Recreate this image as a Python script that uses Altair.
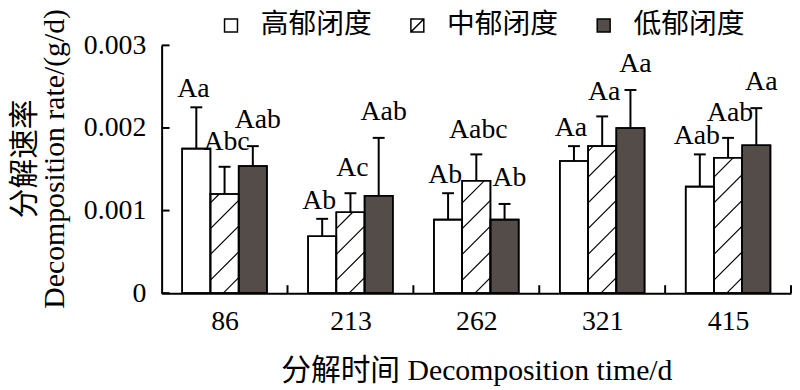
import json
import altair as alt
import pandas as pd

# ---------------- data ----------------
days = ["86", "213", "262", "321", "415"]
series = ["高郁闭度", "中郁闭度", "低郁闭度"]
high_mean = [0.00175, 0.00069, 0.00089, 0.00160, 0.00129]
high_sd = [0.00050, 0.00021, 0.00032, 0.00018, 0.00039]
mid_mean = [0.00120, 0.00098, 0.00136, 0.00178, 0.00164]
mid_sd = [0.00033, 0.00023, 0.00032, 0.00036, 0.00024]
low_mean = [0.00154, 0.00118, 0.00089, 0.00200, 0.00179]
low_sd = [0.00024, 0.00070, 0.00019, 0.00046, 0.00045]
high_sig = ["Aa", "Ab", "Ab", "Aa", "Aab"]
mid_sig = ["Abc", "Ac", "Aabc", "Aa", "Aab"]
low_sig = ["Aab", "Aab", "Ab", "Aa", "Aa"]
y_ticks = [0, 0.001, 0.002, 0.003]

# ---------------- layout / style ----------------
W, H = 635, 250
YMAX = 0.003
PX_X = W / len(days)          # pixels per category unit
PX_Y = H / YMAX               # pixels per y unit
BAR_PX = 28.5
BW = BAR_PX / PX_X
TICK_PX = 8
HATCH_GAP = 26
FONT = "Liberation Serif, Noto Sans CJK SC"
FS = 28
TFS = 30
colors = ["#ffffff", "#ffffff", "#544c49"]
strokes = ["#000000", "#000000", "#000000"]
shapes = ["square", "M-1,-1H1V1H-1Z M-1,1L1,-1", "square"]
label_dx = [-3, 2, 5]
label_dy = [-10, -17, -18]

means = [high_mean, mid_mean, low_mean]
sds = [high_sd, mid_sd, low_sd]
sigs = [high_sig, mid_sig, low_sig]

rows = []
for k, s in enumerate(series):
    for i, d in enumerate(days):
        c = i + (k - 1) * BW
        rows.append(dict(series=s, day=d, center=c, x0=c - BW / 2, x1=c + BW / 2,
                         base=0.0, mean=means[k][i], top=means[k][i] + sds[k][i],
                         sig=sigs[k][i]))
df = pd.DataFrame(rows)

# hatch segments for the middle series (diagonal "/" lines clipped to each bar)
hrows = []
for r in rows:
    if r["series"] != series[1]:
        continue
    hpx = r["mean"] * PX_Y
    c = -BAR_PX + HATCH_GAP * 0.6
    while c < hpx:
        u0 = max(0.0, -c)
        u1 = min(BAR_PX, hpx - c)
        if u1 > u0:
            hrows.append(dict(hx0=r["x0"] + u0 / PX_X, hx1=r["x0"] + u1 / PX_X,
                              hy0=(u0 + c) / PX_Y, hy1=(u1 + c) / PX_Y))
        c += HATCH_GAP
hdf = pd.DataFrame(hrows)

ydf = pd.DataFrame(dict(v=y_ticks, xa=[-0.5] * len(y_ticks),
                        xb=[-0.5 + TICK_PX / PX_X] * len(y_ticks)))
bounds = [i + 0.5 for i in range(len(days))]
xdf = pd.DataFrame(dict(b=bounds, ya=[0.0] * len(bounds),
                        yb=[TICK_PX / PX_Y] * len(bounds)))

# ---------------- scales / axes ----------------
xscale = alt.Scale(domain=[-0.5, len(days) - 0.5], nice=False, zero=False)
yscale = alt.Scale(domain=[0, YMAX], nice=False)
xaxis = alt.Axis(values=list(range(len(days))),
                 labelExpr=json.dumps(days) + "[datum.value]",
                 ticks=False, grid=False, domainColor="black", domainWidth=2,
                 labelFont=FONT, labelFontSize=FS, labelColor="black",
                 labelPadding=15, labelOverlap=False,
                 title="分解时间 Decomposition time/d", titleFont=FONT,
                 titleFontSize=TFS, titleFontWeight="normal", titleColor="black",
                 titlePadding=20)
yaxis = alt.Axis(values=y_ticks,
                 labelExpr="datum.value == 0 ? '0' : format(datum.value, '.3f')",
                 ticks=False, grid=False, domainColor="black", domainWidth=2,
                 labelFont=FONT, labelFontSize=FS, labelColor="black",
                 labelPadding=16,
                 title=["分解速率", "Decomposition rate/(g/d)"], titleFont=FONT,
                 titleFontSize=TFS, titleFontWeight="normal", titleColor="black",
                 titleLineHeight=30, titlePadding=14, titleY=114)


def X(f):
    return alt.X(f + ":Q", scale=xscale, axis=xaxis)


def Y(f):
    return alt.Y(f + ":Q", scale=yscale, axis=yaxis)


leg = alt.Legend(title=None, orient="none", legendX=56, legendY=-34,
                 direction="horizontal", labelFont=FONT, labelFontSize=FS,
                 labelColor="black", labelOffset=16, symbolSize=170,
                 symbolStrokeWidth=1.5, symbolOpacity=1, columnPadding=31)
fill_enc = alt.Fill("series:N", scale=alt.Scale(domain=series, range=colors),
                    sort=series, legend=leg)
shape_enc = alt.Shape("series:N", scale=alt.Scale(domain=series, range=shapes),
                      sort=series, legend=leg)
stroke_enc = alt.Stroke("series:N", scale=alt.Scale(domain=series, range=strokes),
                        sort=series, legend=leg)

bars = alt.Chart(df).mark_rect(strokeWidth=1.6).encode(
    x=X("x0"), x2="x1", y=Y("mean"), y2="base", fill=fill_enc, stroke=stroke_enc)

hatch = alt.Chart(hdf).mark_rule(color="black", strokeWidth=1.2).encode(
    x=X("hx0"), x2="hx1", y=Y("hy0"), y2="hy1")

outline = alt.Chart(df).mark_rect(stroke="black", strokeWidth=1.6, fillOpacity=0).encode(
    x=X("x0"), x2="x1", y=Y("mean"), y2="base")

err = alt.Chart(df).mark_rule(color="black", strokeWidth=2).encode(
    x=X("center"), y=Y("mean"), y2="top")

cap = alt.Chart(df).mark_tick(color="black", orient="horizontal", size=12,
                              thickness=2, opacity=1).encode(
    x=X("center"), y=Y("top"))

label_layers = []
for k, s in enumerate(series):
    label_layers.append(
        alt.Chart(df[df["series"] == s]).mark_text(
            font=FONT, fontSize=FS, color="black", baseline="alphabetic",
            dx=label_dx[k], dy=label_dy[k]).encode(
            x=X("center"), y=Y("top"), text="sig:N"))

yticks = alt.Chart(ydf).mark_rule(color="black", strokeWidth=2).encode(
    x=X("xa"), x2="xb", y=Y("v"))

xticks = alt.Chart(xdf).mark_rule(color="black", strokeWidth=2).encode(
    x=X("b"), y=Y("ya"), y2="yb")

legend_layer = alt.Chart(df).mark_point(filled=True, size=0, strokeWidth=1.5).encode(
    x=X("center"), y=Y("mean"), fill=fill_enc, shape=shape_enc, stroke=stroke_enc)

chart = alt.layer(bars, hatch, outline, err, cap, *label_layers, yticks, xticks,
                  legend_layer).properties(
    width=W, height=H,
    autosize=alt.AutoSizeParams(type="none"),
    padding={"left": 155, "top": 36, "right": 1, "bottom": 96},
).configure_view(stroke=None)

chart.save("out.html", embed_options={"renderer": "svg", "actions": False})
